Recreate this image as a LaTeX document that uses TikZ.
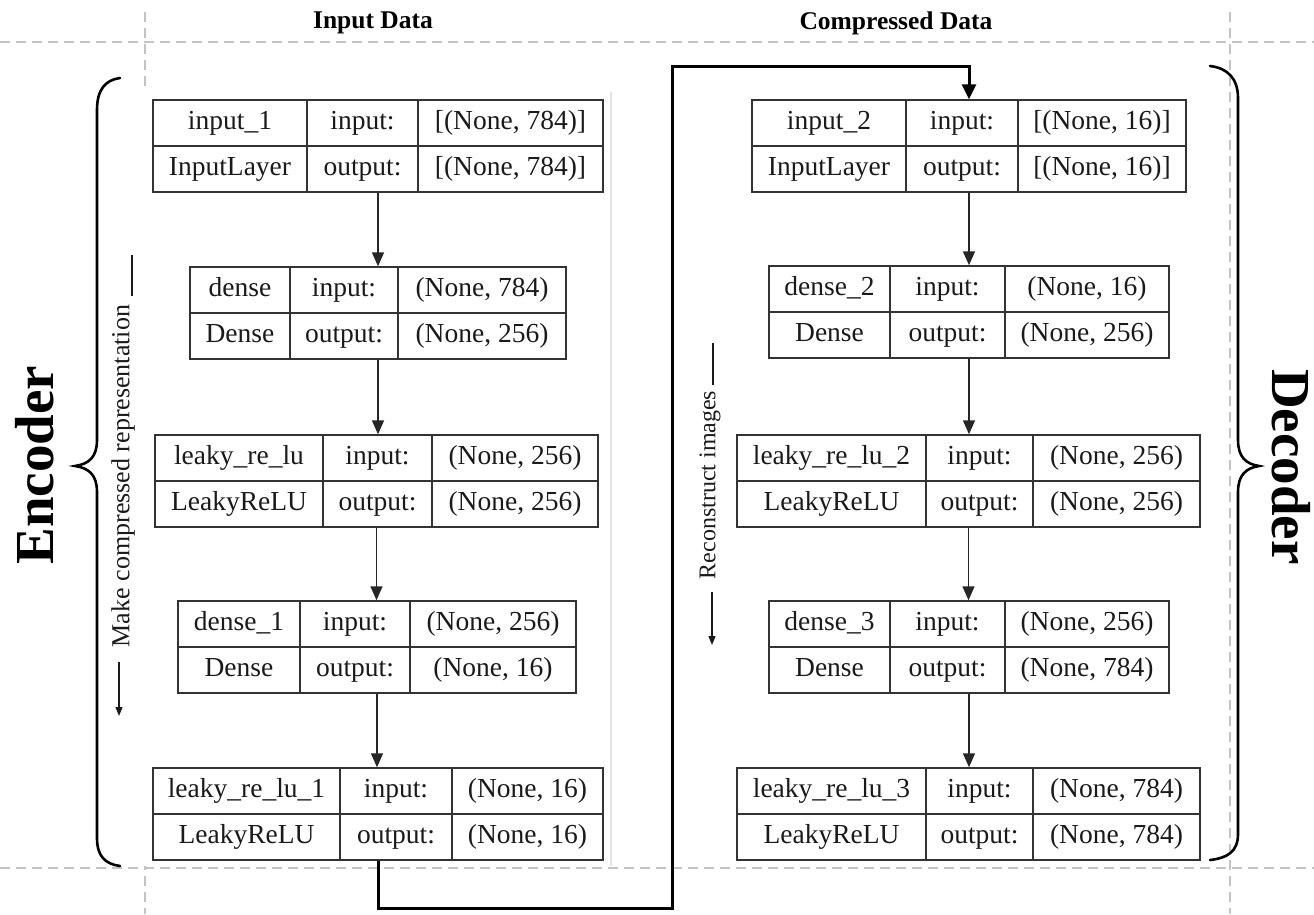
\documentclass[tikz,border=0pt]{standalone}
\usepackage{fontspec}
\setmainfont{Liberation Serif}
\usetikzlibrary{arrows.meta}

\definecolor{gridgray}{HTML}{C4C4C4}
\definecolor{boxline}{HTML}{333333}
\definecolor{txt}{HTML}{1A1A1A}
\definecolor{paneledge}{HTML}{E2E2E2}

\tikzset{
  cell/.style={draw=boxline, line width=1.5pt, minimum height=46pt, inner sep=0pt,
    text=txt, text height=19pt, text depth=6pt, font=\fontsize{27.5}{32}\selectfont},
  frame/.style={draw=boxline, line width=1.5pt, inner sep=0pt, minimum height=92pt},
  flow/.style={draw=black!85, line width=1.6pt, -{Triangle[length=14pt,width=12pt]}},
  bigflow/.style={draw=black, line width=3pt, -{Triangle[length=15pt,width=14pt]}},
  grid/.style={draw=gridgray, line width=1.2pt, dash pattern=on 10pt off 6pt},
  header/.style={font=\bfseries\fontsize{25.5}{30}\selectfont, inner sep=0pt},
  side/.style={text=txt, inner sep=0pt},
  sideline/.style={draw=txt, line width=1.3pt},
  sidearrow/.style={draw=txt, line width=1.3pt, -{Triangle[length=9pt,width=7pt]}},
  brace/.style={draw=black, line width=2.6pt, line cap=round},
  title/.style={font=\bfseries\fontsize{55}{60}\selectfont, inner sep=0pt},
}

% One Keras layer table: name, x0, x1, x2, x3, top, layer, class, input shape, output shape
\newcommand\nnlayer[9]{%
  \def\Lnm{#1}\def\La{#2}\def\Lb{#3}\def\Lc{#4}\def\Ld{#5}\def\Ly{#6}%
  \def\Lname{#7}\def\Lkind{#8}\def\Lin{#9}\nnlayerout}
\newcommand\nnlayerout[1]{%
  \node[frame, minimum width={(\Ld-\La)*1pt}] (\Lnm) at ({(\La+\Ld)/2},{\Ly+46}) {};
  \node[cell, minimum width={(\Lb-\La)*1pt}] (\Lnm-name) at ({(\La+\Lb)/2},{\Ly+23}) {\Lname};
  \node[cell, minimum width={(\Lc-\Lb)*1pt}] (\Lnm-inl) at ({(\Lb+\Lc)/2},{\Ly+23}) {input:};
  \node[cell, minimum width={(\Ld-\Lc)*1pt}] (\Lnm-inv) at ({(\Lc+\Ld)/2},{\Ly+23}) {\Lin};
  \node[cell, minimum width={(\Lb-\La)*1pt}] (\Lnm-kind) at ({(\La+\Lb)/2},{\Ly+69}) {\Lkind};
  \node[cell, minimum width={(\Lc-\Lb)*1pt}] (\Lnm-outl) at ({(\Lb+\Lc)/2},{\Ly+69}) {output:};
  \node[cell, minimum width={(\Ld-\Lc)*1pt}] (\Lnm-outv) at ({(\Lc+\Ld)/2},{\Ly+69}) {#1};
}

\begin{document}
\begin{tikzpicture}[x=1pt,y=-1pt]
  \useasboundingbox (0,0) rectangle (1314,914);

  % guide lines
  \draw[grid] (0,42) -- (1314,42);
  \draw[grid] (0,868) -- (1314,868);
  \draw[grid] (145,12) -- (145,914);
  \draw[grid] (1230,12) -- (1230,914);

  % encoder panel
  \fill[white] (138,90) rectangle (611,866);
  \draw[paneledge, line width=1.2pt] (611,92) -- (611,866);

  % headers
  \node[header] (hin) at (373,23) {Input Data};
  \node[header] (hcomp) at (896,23) {Compressed Data};

  % encoder
  \nnlayer{e1}{153}{307}{418}{603}{100}{input\_1}{InputLayer}{[(None, 784)]}{[(None, 784)]}
  \nnlayer{e2}{190}{290}{398}{566}{267}{dense}{Dense}{(None, 784)}{(None, 256)}
  \nnlayer{e3}{155}{323}{432}{598}{435}{leaky\_re\_lu}{LeakyReLU}{(None, 256)}{(None, 256)}
  \nnlayer{e4}{178}{300}{410}{576}{601}{dense\_1}{Dense}{(None, 256)}{(None, 16)}
  \nnlayer{e5}{153}{340}{452}{603}{768}{leaky\_re\_lu\_1}{LeakyReLU}{(None, 16)}{(None, 16)}

  % decoder
  \nnlayer{d1}{752}{906}{1018}{1186}{100}{input\_2}{InputLayer}{[(None, 16)]}{[(None, 16)]}
  \nnlayer{d2}{769}{890}{1005}{1169}{266}{dense\_2}{Dense}{(None, 16)}{(None, 256)}
  \nnlayer{d3}{737}{926}{1033}{1200}{435}{leaky\_re\_lu\_2}{LeakyReLU}{(None, 256)}{(None, 256)}
  \nnlayer{d4}{769}{890}{1005}{1169}{601}{dense\_3}{Dense}{(None, 256)}{(None, 784)}
  \nnlayer{d5}{737}{926}{1033}{1200}{768}{leaky\_re\_lu\_3}{LeakyReLU}{(None, 784)}{(None, 784)}

  % layer-to-layer flow
  \foreach \a/\b in {e1/e2,e2/e3,e3/e4,e4/e5,d1/d2,d2/d3,d3/d4,d4/d5}
    \draw[flow] (\a.south) -- (\a.south |- \b.north);

  % encoder output feeds decoder input
  \coordinate (lowturn) at (672,908);
  \coordinate (highturn) at (672,66);
  \draw[bigflow] (e5.south) |- (lowturn) -- (highturn) -| (d1.north);

  % braces
  \draw[brace] (120,78) .. controls (105,80) and (97,90) .. (97,110) -- (97,440)
    .. controls (97,457) and (89,464) .. (75,466)
    .. controls (89,468) and (97,475) .. (97,492) -- (97,838)
    .. controls (97,856) and (105,864) .. (120,866);
  \draw[brace] (1210,66) .. controls (1227,68) and (1238,78) .. (1238,98) -- (1238,440)
    .. controls (1238,457) and (1246,464) .. (1259,466)
    .. controls (1246,468) and (1238,475) .. (1238,492) -- (1238,834)
    .. controls (1238,852) and (1227,858) .. (1210,860);

  \node[title, rotate=90] (enc) at (35,465) {Encoder};
  \node[title, rotate=-90] (dec) at (1291,467) {Decoder};

  % side captions
  \node[side, rotate=90, font=\fontsize{26}{30}\selectfont] (enclbl) at (123,476) {Make compressed representation};
  \coordinate (encL1) at (132,255);
  \coordinate (encL2) at (132,296);
  \draw[sideline] (encL1) -- (encL2);
  \coordinate (encA1) at (119,662);
  \coordinate (encA2) at (119,716);
  \draw[sidearrow] (encA1) -- (encA2);

  \node[side, rotate=90, font=\fontsize{24}{28}\selectfont] (declbl) at (710,485) {Reconstruct images};
  \coordinate (decL1) at (713,343);
  \coordinate (decL2) at (713,385);
  \draw[sideline] (decL1) -- (decL2);
  \coordinate (decA1) at (712,592);
  \coordinate (decA2) at (712,645);
  \draw[sidearrow] (decA1) -- (decA2);
\end{tikzpicture}
\end{document}
